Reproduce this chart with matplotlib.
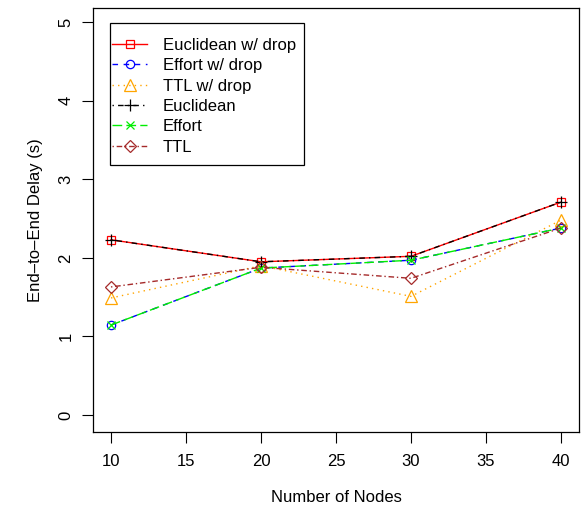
import matplotlib
matplotlib.use("Agg")
import matplotlib.pyplot as plt
from matplotlib.patches import Rectangle

plt.rcParams['font.family'] = ['Liberation Sans', 'DejaVu Sans']

nodes = [10, 20, 30, 40]
euclid_drop = [2.23, 1.95, 2.02, 2.71]
effort_drop = [1.145, 1.87, 1.97, 2.38]
ttl_drop = [1.49, 1.90, 1.51, 2.48]
euclid = [2.23, 1.95, 2.02, 2.71]
effort = [1.145, 1.87, 1.97, 2.38]
ttl = [1.63, 1.88, 1.74, 2.38]

x_ticks = [10, 15, 20, 25, 30, 35, 40]
y_ticks = [0, 1, 2, 3, 4, 5]

FS = 12
fig = plt.figure(figsize=(5.85, 5.13), dpi=100)
ax = fig.add_axes([93/585, 1-432/513, (579-93)/585, (432-8)/513])

def ax_x(px):
    return (px - 93) / 486

def ax_y(py):
    return (432 - py) / 424

ms = 6
ax.plot(nodes, euclid_drop, color='red', ls='-', lw=1, marker='s', ms=ms, mfc='none', mec='red', mew=0.9, label='Euclidean w/ drop')
ax.plot(nodes, effort_drop, color='blue', ls=(0, (4, 4)), lw=1, marker='o', ms=ms, mfc='none', mec='blue', mew=0.9, label='Effort w/ drop')
ax.plot(nodes, ttl_drop, color='orange', ls=(0, (1, 3)), lw=1, marker='^', ms=ms+2, mfc='none', mec='orange', mew=0.9, label='TTL w/ drop')
ax.plot(nodes, euclid, color='black', ls=(0, (1, 3, 4, 3)), lw=1, marker='+', ms=ms+3, mfc='none', mec='black', mew=0.9, label='Euclidean')
ax.plot(nodes, effort, color='#00ee00', ls=(0, (7, 3)), lw=1, marker='x', ms=ms, mfc='none', mec='#00ee00', mew=0.9, label='Effort')
ax.plot(nodes, ttl, color='brown', ls=(0, (1, 2, 4, 2)), lw=1, marker='D', ms=ms, mfc='none', mec='brown', mew=0.9, label='TTL')

ax.set_xlim(8.8, 41.2)
ax.set_ylim(-0.216, 5.18)
ax.set_xticks(x_ticks)
ax.set_yticks(y_ticks)
ax.set_xticklabels([str(v) for v in x_ticks], fontsize=FS)
ax.set_yticklabels([str(v) for v in y_ticks], fontsize=FS, rotation=90, va='center')
ax.tick_params(axis='both', direction='out', length=8, width=0.8, pad=8)
ax.tick_params(axis='y', pad=6)
for s in ax.spines.values():
    s.set_linewidth(0.9)

ax.set_xlabel('Number of Nodes', fontsize=FS, labelpad=15)
ax.set_ylabel('End\u2013to\u2013End Delay (s)', fontsize=FS, labelpad=11)

leg = ax.legend(loc='upper left', bbox_to_anchor=(ax_x(112), ax_y(38)), fontsize=FS,
                frameon=False, handlelength=2.1, labelspacing=0.32, borderpad=0,
                handletextpad=0.95, borderaxespad=0)
ax.add_patch(Rectangle((ax_x(110), ax_y(165)), ax_x(304) - ax_x(110), ax_y(23) - ax_y(165),
                       transform=ax.transAxes, fill=False, edgecolor='black', lw=0.9, zorder=5))

fig.savefig('out.png', dpi=100)
